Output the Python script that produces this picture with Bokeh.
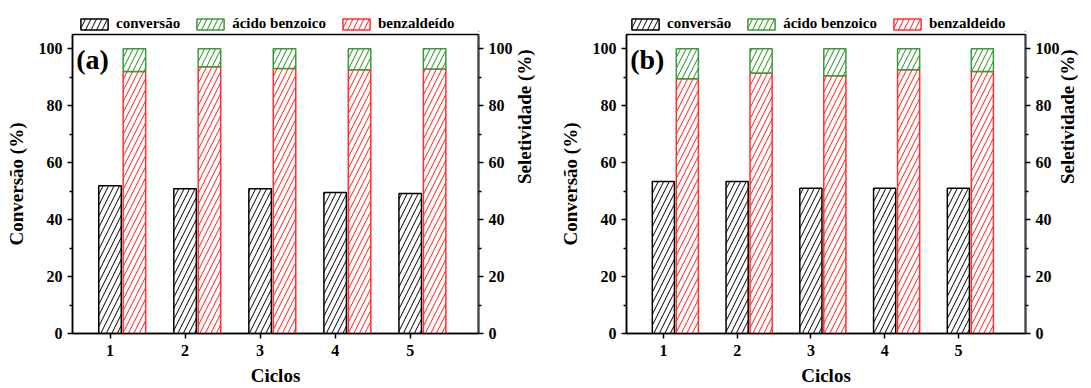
import math
from bokeh.plotting import figure
from bokeh.models import (ColumnDataSource, Range1d, LinearAxis, Legend, LegendItem,
                          Label, FixedTicker)
from bokeh.layouts import row, column
from bokeh.transform import dodge
from bokeh.embed import file_html
from bokeh.resources import INLINE
from bokeh.core.properties import value

# ---------------- data ----------------
ciclos = [1, 2, 3, 4, 5]
tick_labels_x = ["1", "2", "3", "4", "5"]

conv_a = [51.9, 50.8, 50.8, 49.5, 49.2]
benz_a = [92.0, 93.7, 93.1, 92.6, 92.9]
acid_a = [8.0, 6.3, 6.9, 7.4, 7.1]

conv_b = [53.4, 53.4, 51.0, 51.0, 51.0]
benz_b = [89.5, 91.5, 90.5, 92.6, 92.0]
acid_b = [10.5, 8.5, 9.5, 7.4, 8.0]

labels_a = ["conversão", "ácido benzoico", "benzaldeído"]
labels_b = ["conversão", "ácido benzoico", "benzaldeido"]

y_ticks = [0, 20, 40, 60, 80, 100]
y_minor = [10, 30, 50, 70, 90]

FONT = "Liberation Serif"
BLACK = "#000000"
RED_LINE = "#ff3030"
RED_HATCH = "#ff1a1a"
GREEN_LINE = "#3a9a3a"
GREEN_HATCH = "#1f8c1f"

LEG_H = 32
MAIN_H = 356
BORDER_TOP = 2
BORDER_BOTTOM = 55
HATCH = dict(fill_color="white", hatch_pattern="/", hatch_scale=11,
             hatch_weight=1, line_width=1.5)
STYLES = [dict(line_color=BLACK, hatch_color=BLACK),
          dict(line_color=GREEN_LINE, hatch_color=GREEN_HATCH),
          dict(line_color=RED_LINE, hatch_color=RED_HATCH)]


def style_axis(ax, label):
    ax.axis_label = label
    ax.axis_label_text_font = FONT
    ax.axis_label_text_font_style = "bold"
    ax.axis_label_text_font_size = "19px"
    ax.axis_label_text_color = BLACK
    ax.major_label_text_font = FONT
    ax.major_label_text_font_style = "bold"
    ax.major_label_text_font_size = "16px"
    ax.major_label_text_color = BLACK
    ax.major_tick_in = 0
    ax.major_tick_out = 5
    ax.minor_tick_in = 0
    ax.minor_tick_out = 3
    ax.major_tick_line_width = 1.5
    ax.minor_tick_line_width = 1.5
    ax.axis_line_width = 1.5


def make_source(conv, benz, acid):
    return ColumnDataSource(dict(
        x=ciclos, conv=conv, benz=benz,
        acid_top=[b + a for b, a in zip(benz, acid)],
    ))


def make_legend_fig(src, labels, width, min_left, min_right, leg_x):
    # legend strip above the chart; its renderers share the chart's data but
    # the view window lies far from the bars so only the legend is visible
    f = figure(width=width, height=LEG_H,
               x_range=Range1d(-1000, -999), y_range=Range1d(1000, 1001),
               output_backend="svg", toolbar_location=None,
               x_axis_location=None, y_axis_location=None,
               min_border_left=min_left, min_border_right=min_right,
               min_border_top=0, min_border_bottom=0)
    f.xgrid.visible = False
    f.ygrid.visible = False
    f.outline_line_color = None
    f.border_fill_color = "white"
    tops = ["conv", "acid_top", "benz"]
    rends = [f.vbar(x="x", top=t, width=0.3, source=src, **HATCH, **st)
             for t, st in zip(tops, STYLES)]
    legend = Legend(items=[LegendItem(label=value(lab), renderers=[r])
                           for lab, r in zip(labels, rends)],
                    orientation="horizontal", location=(leg_x, 0),
                    label_text_font=FONT, label_text_font_style="bold",
                    label_text_font_size="15px", label_text_color=BLACK,
                    glyph_width=34, glyph_height=14, label_height=14,
                    label_standoff=5, spacing=13, padding=0, margin=0,
                    border_line_color=None, background_fill_alpha=0)
    f.add_layout(legend, "center")
    return f


def make_panel(src, tag, width, min_left, min_right, rstand):
    p = figure(width=width, height=MAIN_H,
               x_range=Range1d(0.5, 5.91), y_range=Range1d(0, 105),
               output_backend="svg", toolbar_location=None,
               min_border_left=min_left, min_border_right=min_right,
               min_border_top=BORDER_TOP, min_border_bottom=BORDER_BOTTOM)
    p.extra_y_ranges = {"sel": Range1d(0, 105)}
    p.xgrid.visible = False
    p.ygrid.visible = False
    p.outline_line_color = BLACK
    p.outline_line_width = 1.5
    p.background_fill_color = "white"
    p.border_fill_color = "white"

    p.vbar(x="x", top="conv", bottom=0, width=0.3, source=src, **HATCH, **STYLES[0])
    xs = dodge("x", 0.325, range=p.x_range)
    p.vbar(x=xs, top="benz", bottom=0, width=0.3, y_range_name="sel", source=src,
           **HATCH, **STYLES[2])
    p.vbar(x=xs, top="acid_top", bottom="benz", width=0.3, y_range_name="sel",
           source=src, **HATCH, **STYLES[1])

    xax = p.xaxis[0]
    style_axis(xax, "Ciclos")
    xax.ticker = FixedTicker(ticks=ciclos)
    xax.major_label_overrides = {c: t for c, t in zip(ciclos, tick_labels_x)}
    xax.axis_label_standoff = 6
    xax.major_label_standoff = 6

    yax = p.yaxis[0]
    style_axis(yax, "Conversão (%)")
    yax.ticker = FixedTicker(ticks=y_ticks, minor_ticks=y_minor)
    yax.axis_label_standoff = 9

    rax = LinearAxis(y_range_name="sel")
    style_axis(rax, "Seletividade (%)")
    rax.ticker = FixedTicker(ticks=y_ticks, minor_ticks=y_minor)
    rax.axis_line_color = "#444444"
    rax.axis_line_width = 2
    rax.axis_label_orientation = math.pi / 2
    rax.axis_label_standoff = rstand
    p.add_layout(rax, "right")

    p.add_layout(Label(x=0.55, y=101.5, text=tag, text_baseline="top",
                       text_font=FONT, text_font_style="bold",
                       text_font_size="28px", text_color=BLACK))
    return p


WA = 553
WB = 1091 - WA
src_a = make_source(conv_a, benz_a, acid_a)
src_b = make_source(conv_b, benz_b, acid_b)
pa = make_panel(src_a, "(a)", WA, 72, 75, 9)
pb = make_panel(src_b, "(b)", WB, 73, 58, 5)
la = make_legend_fig(src_a, labels_a, WA, 72, 75, 5)
lb = make_legend_fig(src_b, labels_b, WB, 73, 58, 2)

layout = row(column(la, pa), column(lb, pb))
open("out.html", "w").write(file_html(layout, INLINE))
